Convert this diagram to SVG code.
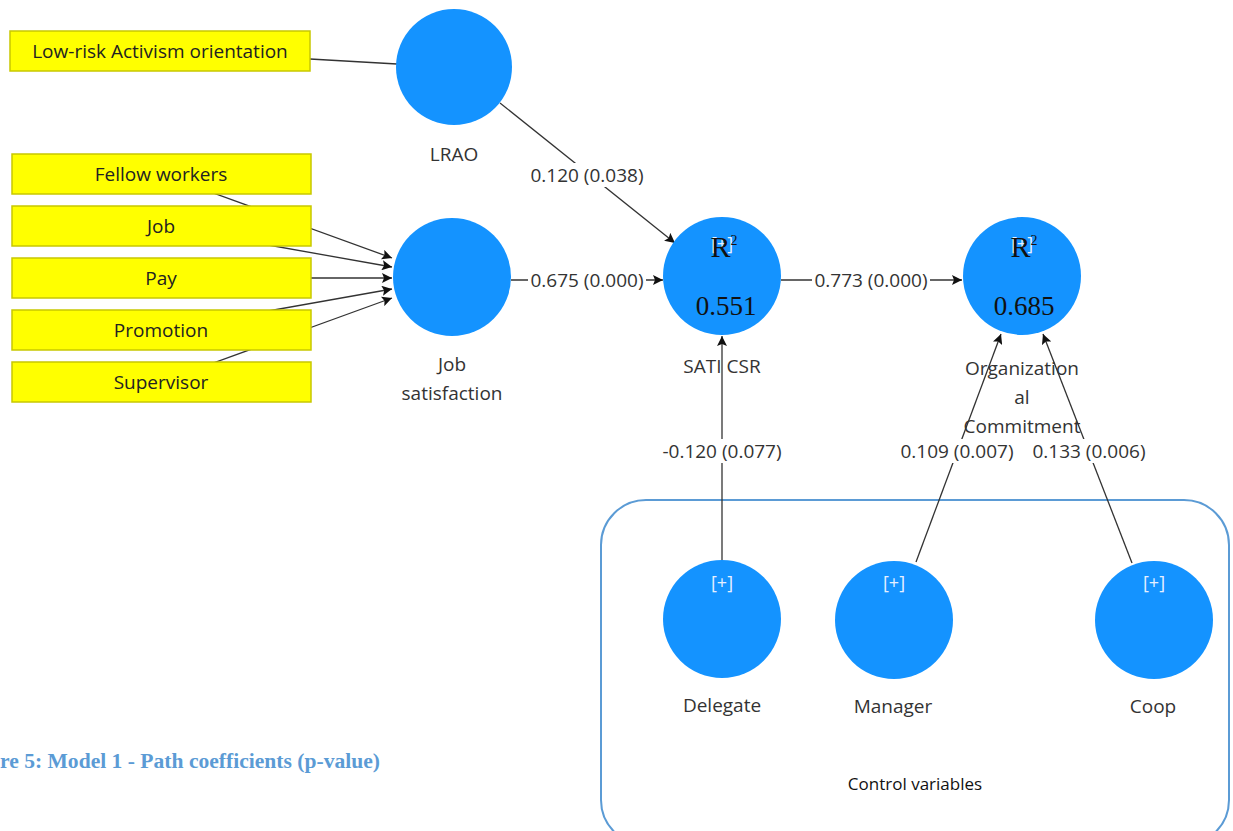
<svg xmlns="http://www.w3.org/2000/svg" width="1233" height="831" viewBox="0 0 1233 831">
<defs>
<marker id="arr" viewBox="0 0 10 10" refX="10" refY="5" markerWidth="10" markerHeight="10" markerUnits="userSpaceOnUse" orient="auto">
<path d="M0,0 L10,5 L0,10 L2,5 Z" fill="#111"/>
</marker>
<style>
.lv{fill:#1493ff;}
.ind{fill:#ffff00;stroke:#c8c800;stroke-width:1.5;}
.t{font-family:"Open Sans","Noto Sans",sans-serif;font-size:19px;fill:#333;text-anchor:middle;}
.bt{font-family:"Open Sans","Noto Sans",sans-serif;font-size:19px;fill:#222;text-anchor:middle;}
.plus{font-family:"Open Sans","Noto Sans",sans-serif;font-size:18px;fill:#e6f0ff;text-anchor:middle;}
.r2{font-family:"Liberation Serif",serif;font-size:30px;fill:#111;text-anchor:middle;}
.val{font-family:"Liberation Serif",serif;font-size:27px;fill:#111;text-anchor:middle;}
.ln{stroke:#333;stroke-width:1.3;fill:none;}
.lb{fill:#fff;}
</style>
</defs>
<rect width="1233" height="831" fill="#fff"/>

<g id="control-box">
<rect x="601" y="500" width="628" height="345" rx="45" ry="45" fill="none" stroke="#5b9bd5" stroke-width="2"/>
<text x="915" y="790" style="font-family:'Open Sans','Noto Sans',sans-serif;font-size:17px;fill:#111;text-anchor:middle;">Control variables</text>
</g>

<g id="connectors">
<line class="ln" x1="310" y1="59" x2="397" y2="64"/>
<line class="ln" x1="161" y1="174" x2="392" y2="258" marker-end="url(#arr)"/>
<line class="ln" x1="161" y1="226" x2="392" y2="267" marker-end="url(#arr)"/>
<line class="ln" x1="161" y1="278" x2="392" y2="278" marker-end="url(#arr)"/>
<line class="ln" x1="161" y1="330" x2="392" y2="289" marker-end="url(#arr)"/>
<line class="ln" x1="161" y1="382" x2="392" y2="298" marker-end="url(#arr)"/>
<line class="ln" x1="500" y1="103" x2="675" y2="243" marker-end="url(#arr)"/>
<line class="ln" x1="511" y1="280" x2="663" y2="280" marker-end="url(#arr)"/>
<line class="ln" x1="781" y1="280" x2="962" y2="280" marker-end="url(#arr)"/>
<line class="ln" x1="722" y1="560" x2="722" y2="336" marker-end="url(#arr)"/>
<line class="ln" x1="916" y1="562" x2="1001" y2="334" marker-end="url(#arr)"/>
<line class="ln" x1="1132" y1="563" x2="1043" y2="334" marker-end="url(#arr)"/>
<rect class="lb" x="528" y="163" width="118" height="24"/>
<text class="t" x="587" y="182">0.120 (0.038)</text>
<rect class="lb" x="528" y="268" width="118" height="24"/>
<text class="t" x="587" y="287">0.675 (0.000)</text>
<rect class="lb" x="812" y="268" width="118" height="24"/>
<text class="t" x="871" y="287">0.773 (0.000)</text>
<rect class="lb" x="658" y="439" width="128" height="24"/>
<text class="t" x="722" y="458">-0.120 (0.077)</text>
<rect class="lb" x="898" y="439" width="118" height="24"/>
<text class="t" x="957" y="458">0.109 (0.007)</text>
<rect class="lb" x="1030" y="439" width="118" height="24"/>
<text class="t" x="1089" y="458">0.133 (0.006)</text>
</g>

<g id="low-risk-activism-orientation">
<rect class="ind" x="10" y="31" width="300" height="40"/>
<text class="bt" x="160" y="58">Low-risk Activism orientation</text>
</g>
<g id="fellow-workers">
<rect class="ind" x="12" y="154" width="299" height="40"/>
<text class="bt" x="161" y="181">Fellow workers</text>
</g>
<g id="job">
<rect class="ind" x="12" y="206" width="299" height="40"/>
<text class="bt" x="161" y="233">Job</text>
</g>
<g id="pay">
<rect class="ind" x="12" y="258" width="299" height="40"/>
<text class="bt" x="161" y="285">Pay</text>
</g>
<g id="promotion">
<rect class="ind" x="12" y="310" width="299" height="40"/>
<text class="bt" x="161" y="337">Promotion</text>
</g>
<g id="supervisor">
<rect class="ind" x="12" y="362" width="299" height="40"/>
<text class="bt" x="161" y="389">Supervisor</text>
</g>

<g id="lrao">
<circle class="lv" cx="454" cy="67" r="58"/>
<text class="t" x="454" y="161">LRAO</text>
</g>
<g id="job-satisfaction">
<circle class="lv" cx="452" cy="277" r="59"/>
<text class="t" x="452" y="371">Job</text>
<text class="t" x="452" y="400">satisfaction</text>
</g>
<g id="sati-csr">
<circle class="lv" cx="722" cy="276" r="59"/>
<text class="plus" x="722" y="250">[+]</text>
<text class="r2" x="724" y="257">R<tspan font-size="14" dy="-12">2</tspan></text>
<text class="val" x="726" y="315">0.551</text>
<text class="t" x="722" y="373">SATI CSR</text>
</g>
<g id="organizational-commitment">
<circle class="lv" cx="1022" cy="276" r="59"/>
<text class="plus" x="1022" y="250">[+]</text>
<text class="r2" x="1024" y="257">R<tspan font-size="14" dy="-12">2</tspan></text>
<text class="val" x="1024" y="315">0.685</text>
<text class="t" x="1022" y="375">Organization</text>
<text class="t" x="1022" y="404">al</text>
<text class="t" x="1022" y="433">Commitment</text>
</g>
<g id="delegate">
<circle class="lv" cx="722" cy="619" r="59"/>
<text class="plus" x="722" y="589">[+]</text>
<text class="t" x="722" y="712">Delegate</text>
</g>
<g id="manager">
<circle class="lv" cx="894" cy="620" r="59"/>
<text class="plus" x="894" y="589">[+]</text>
<text class="t" x="893" y="713">Manager</text>
</g>
<g id="coop">
<circle class="lv" cx="1154" cy="620" r="59"/>
<text class="plus" x="1154" y="589">[+]</text>
<text class="t" x="1153" y="713">Coop</text>
</g>

<g id="caption">
<text x="0" y="768" textLength="380" lengthAdjust="spacingAndGlyphs" style="font-family:'Liberation Serif',serif;font-weight:bold;font-size:20px;fill:#5b9bd5;">re 5: Model 1 - Path coefficients (p-value)</text>
</g>
</svg>
